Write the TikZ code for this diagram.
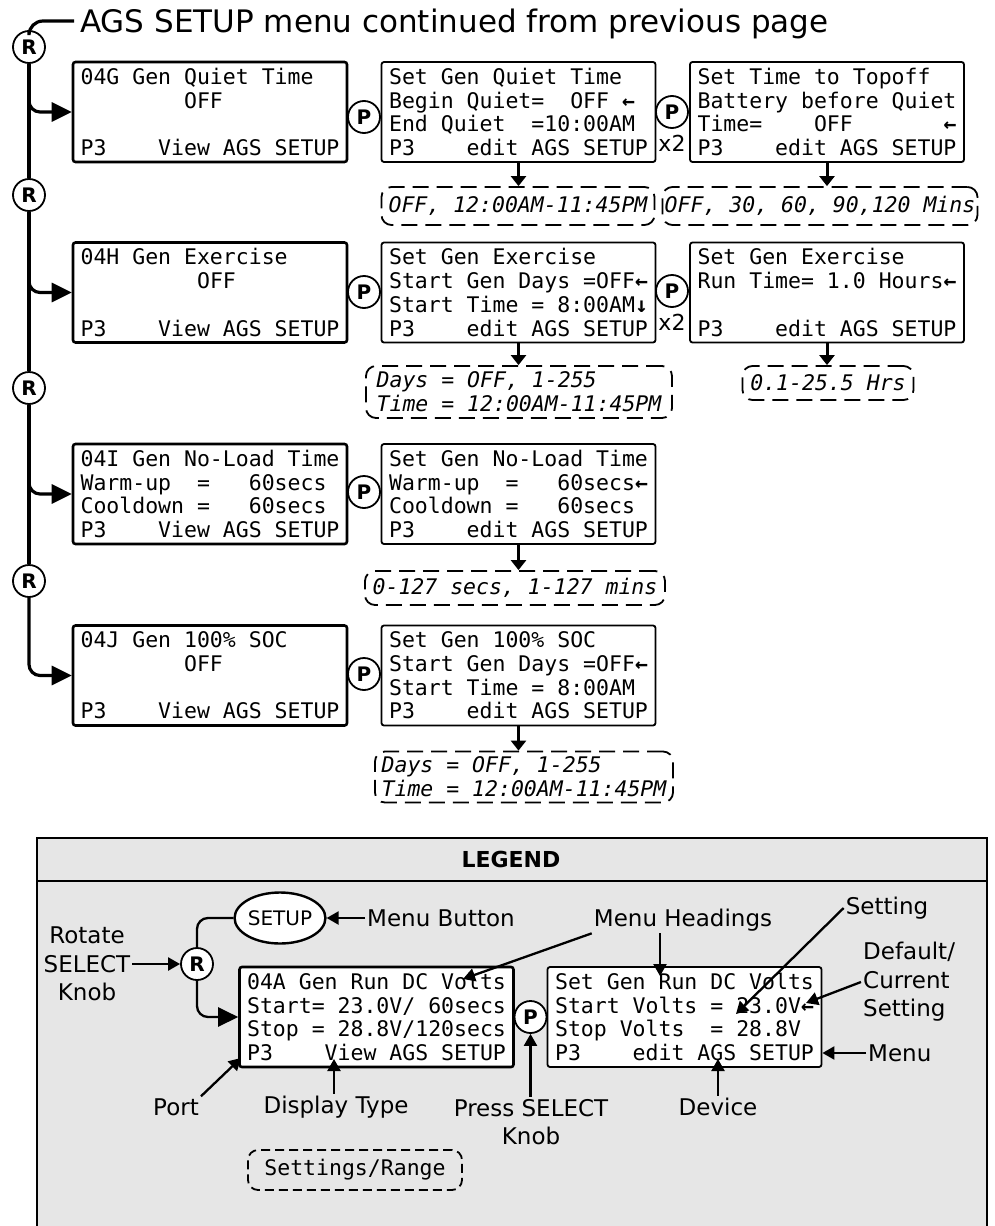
\documentclass[tikz,border=0pt]{standalone}
\usepackage{fontspec}
\setmainfont{DejaVu Sans}
\setsansfont{DejaVu Sans}
\setmonofont{DejaVu Sans Mono}
\newfontfamily\lcdfam{DejaVu Sans Mono}
\usetikzlibrary{arrows.meta,shapes.geometric,calc}
\definecolor{legendgray}{RGB}{230,230,230}
\newcommand\larw{{\bfseries ←}}
\newcommand\darw{{\bfseries ↓}}
\newcommand\lcdsize{\fontsize{21.5}{23.7}\selectfont}
\newcommand\lblsize{\fontsize{23}{28.5}\selectfont}
\begin{document}
\begin{tikzpicture}[x=1pt,y=-1pt,
  lcd/.style={draw, rounded corners=2.5pt, fill=white, minimum width=274pt, minimum height=100pt, inner xsep=0pt, inner ysep=0pt, align=left, font=\lcdfam\lcdsize},
  view/.style={lcd, line width=2.6pt},
  edit/.style={lcd, line width=1.8pt},
  knob/.style={circle, draw, line width=1.8pt, fill=white, minimum size=32pt, inner sep=0pt, font=\sffamily\bfseries\fontsize{20}{20}\selectfont},
  rangebox/.style={draw, dash pattern=on 16pt off 8pt, line width=1.8pt, rounded corners=10pt, inner sep=0pt, font=\lcdfam\itshape\lcdsize},
  trunk/.style={line width=3.2pt},
  branch/.style={line width=3.2pt, rounded corners=11pt, -{Triangle[length=20pt,width=19pt]}},
  down/.style={line width=3pt, -{Triangle[length=10pt,width=15pt]}},
  lbl/.style={font=\lblsize, inner sep=2pt},
  larr/.style={line width=2.3pt, -{Triangle[length=12pt,width=13pt]}},
  xtwo/.style={font=\fontsize{22}{22}\selectfont, inner sep=0pt},
]
\useasboundingbox (0,0) rectangle (995,1226);

% ---------- title and trunk ----------
\node[anchor=base west, inner sep=0pt, font=\fontsize{31}{31}\selectfont] (title) at (80,32) {AGS SETUP menu continued from previous page};
\coordinate (tl) at (74,21);

\node[knob] (R1) at (29,47) {R};
\node[knob] (R2) at (29,195) {R};
\node[knob] (R3) at (29,388) {R};
\node[knob] (R4) at (29,581) {R};

\draw[trunk, rounded corners=14pt] (R1.north) |- (tl);
\draw[trunk] (R1.south) -- (R2.north);
\draw[trunk] (R2.south) -- (R3.north);
\draw[trunk] (R3.south) -- (R4.north);

% ---------- row G ----------
\node[view] (g1) at (210,112) {04G Gen Quiet Time\\~~~~~~~~OFF\\~\\P3~~~~View AGS SETUP};
\node[edit] (g2) at (518.5,112) {Set Gen Quiet Time\\Begin Quiet=~~OFF~\larw\\End Quiet~~=10:00AM\\P3~~~~edit AGS SETUP};
\node[edit] (g3) at (827,112) {Set Time to Topoff\\Battery before Quiet\\Time=~~~~OFF~~~~~~~\larw\\P3~~~~edit AGS SETUP};
\node[knob] (pg) at (364,117) {P};
\node[knob] (pg2) at (672,112) {P};
\node[xtwo] (xa) at (672,143) {x2};
\node[rangebox, minimum width=273, minimum height=38] (rg2) at (518,206) {OFF, 12:00AM-11:45PM};
\node[rangebox, minimum width=315, minimum height=38] (rg3) at (820,206) {OFF, 30, 60, 90,120 Mins};

% ---------- row H ----------
\node[view] (h1) at (210,292.5) {04H Gen Exercise\\~~~~~~~~~OFF\\~\\P3~~~~View AGS SETUP};
\node[edit] (h2) at (518.5,292.5) {Set Gen Exercise\\Start Gen Days =OFF\larw\\Start Time = 8:00AM\darw\\P3~~~~edit AGS SETUP};
\node[edit] (h3) at (827,292.5) {Set Gen Exercise\\Run Time= 1.0 Hours\larw\\~\\P3~~~~edit AGS SETUP};
\node[knob] (ph) at (364,292) {P};
\node[knob] (ph2) at (672,291) {P};
\node[xtwo] (xb) at (672,322) {x2};
\node[rangebox, align=left, minimum width=306, minimum height=52] (rh2) at (519,392) {Days = OFF, 1-255\\Time = 12:00AM-11:45PM};
\node[rangebox, minimum width=171, minimum height=34] (rh3) at (828,383) {0.1-25.5 Hrs};

% ---------- row I ----------
\node[view] (i1) at (210,494) {04I Gen No-Load Time\\Warm-up~~=~~~60secs\\Cooldown~=~~~60secs\\P3~~~~View AGS SETUP};
\node[edit] (i2) at (518.5,494) {Set Gen No-Load Time\\Warm-up~~=~~~60secs\larw\\Cooldown~=~~~60secs\\P3~~~~edit AGS SETUP};
\node[knob] (pi) at (364,492) {P};
\node[rangebox, minimum width=300, minimum height=34] (ri2) at (515,588) {0-127 secs, 1-127 mins};

% ---------- row J ----------
\node[view] (j1) at (210,675.5) {04J Gen 100\% SOC\\~~~~~~~~OFF\\~\\P3~~~~View AGS SETUP};
\node[edit] (j2) at (518.5,675.5) {Set Gen 100\% SOC\\Start Gen Days =OFF\larw\\Start Time = 8:00AM\\P3~~~~edit AGS SETUP};
\node[knob] (pj) at (364,674) {P};
\node[rangebox, align=left, minimum width=298, minimum height=51] (rj2) at (524,777) {Days = OFF, 1-255\\Time = 12:00AM-11:45PM};

% ---------- branches ----------
\draw[branch] (R1.south) |- (g1.west);
\draw[branch] (R2.south) |- (h1.west);
\draw[branch] (R3.south) |- (i1.west);
\draw[branch] (R4.south) |- (j1.west);

% ---------- down arrows ----------
\draw[down] (g2.south) -- (g2.south |- rg2.north);
\draw[down] (g3.south) -- (g3.south |- rg3.north);
\draw[down] (h2.south) -- (h2.south |- rh2.north);
\draw[down] (h3.south) -- (h3.south |- rh3.north);
\draw[down] (i2.south) -- (i2.south |- ri2.north);
\draw[down] (j2.south) -- (j2.south |- rj2.north);

% ---------- legend ----------
\begin{scope}
\clip (0,0) rectangle (995,1226);
\draw[line width=1.5pt, fill=legendgray] (37,838) rectangle (987,1240);
\end{scope}
\draw[line width=1.5pt] (37,881) -- (987,881);
\node[font=\bfseries\fontsize{22}{22}\selectfont] (leg) at (511,859) {LEGEND};

\node[draw, ellipse, line width=2.4pt, fill=white, minimum width=70, minimum height=51, inner sep=0pt, font=\fontsize{20}{20}\selectfont] (setup) at (280,918) {SETUP};
\node[knob] (LR) at (197,964) {R};
\node[lbl, align=center] (rot) at (87,964) {Rotate\\SELECT\\Knob};
\node[lbl, anchor=west] (mb) at (365,918) {Menu Button};
\node[view] (lg1) at (376.5,1017) {04A Gen Run DC Volts\\Start= 23.0V/ 60secs\\Stop = 28.8V/120secs\\P3~~~~View AGS SETUP};
\node[edit] (lg2) at (684.5,1017) {Set Gen Run DC Volts\\Start Volts = 23.0V\larw\\Stop Volts~~= 28.8V\\P3~~~~edit AGS SETUP};
\node[knob] (LP) at (530.5,1017) {P};

\node[lbl] (mh) at (683,920) {Menu Headings};
\node[lbl] (st) at (887,908) {Setting};
\node[lbl, align=left, anchor=west] (dc) at (861,982) {Default/\\Current\\Setting};
\node[lbl, anchor=west] (mn) at (866,1053) {Menu};
\node[lbl] (dev) at (718,1107) {Device};
\node[lbl, align=center] (ps) at (531,1122) {Press SELECT\\Knob};
\node[lbl] (dt) at (336,1107) {Display Type};
\node[lbl] (port) at (176,1107) {Port};
\node[rangebox, dash pattern=on 9pt off 5pt, font=\lcdfam\lcdsize, minimum width=214, minimum height=40] (sr) at (355,1170) {Settings/Range};

\coordinate (mhA) at (463,979);
\coordinate (mhB) at (660,976);
\coordinate (stB) at (736,1014);
\coordinate (dcB) at (806,1003);
\coordinate (devB) at (718,1059);
\coordinate (dtB) at (334,1059);
\coordinate (portB) at (241,1058);

\draw[line width=2.3pt, rounded corners=11pt] (LR.north) |- (setup.west);
\draw[branch, line width=2.3pt] (LR.south) |- (lg1.west);
\draw[larr] (rot.east) -- (LR.west);
\draw[larr] (mb.west) -- (setup.east);
\draw[larr] (mh.south west) -- (mhA);
\draw[larr] (mh.south -| mhB) -- (mhB);
\draw[larr] (st.west) -- (stB);
\draw[larr] (dc.west) -- (dcB);
\draw[larr] (mn.west) -- (lg2.east |- mn.west);
\draw[larr] (dev.north) -- (devB);
\draw[larr] (LP.south |- ps.north) -- (LP.south);
\draw[larr] (dt.north -| dtB) -- (dtB);
\draw[larr] (port.north east) -- (portB);
\end{tikzpicture}
\end{document}
